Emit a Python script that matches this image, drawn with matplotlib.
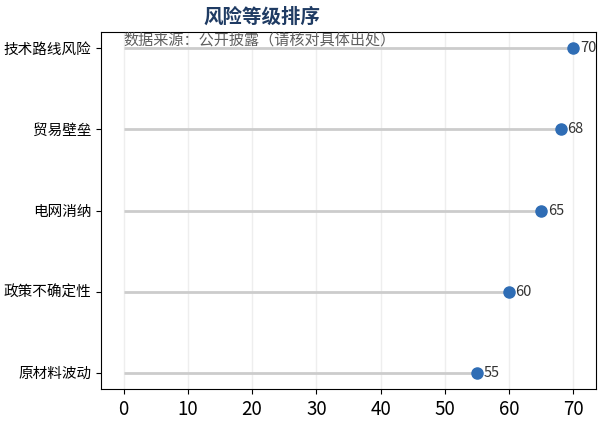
import numpy as np
import matplotlib
matplotlib.use('Agg')
import matplotlib.pyplot as plt

plt.rcParams['font.family'] = ['Noto Sans CJK SC', 'DejaVu Sans']

# Данные
categories = ['原材料波动', '政策不确定性', '电网消纳', '贸易壁垒', '技术路线风险']
values = [55, 60, 65, 68, 70]
x_ticks = [0, 10, 20, 30, 40, 50, 60, 70]

fig = plt.figure(figsize=(6.05, 4.24), dpi=100)
ax = fig.add_axes([0.167, 0.0825, 0.818, 0.842])

y = np.arange(len(categories))
ax.hlines(y, 0, values, color='#cccccc', lw=2, zorder=2)
ax.plot(values, y, 'o', color='#2f6db5', ms=8, zorder=3)
for yi, v in zip(y, values):
    ax.text(v + 1.0, yi, str(v), va='center', ha='left', fontsize=10.5, color='#333333')

ax.set_yticks(y)
ax.set_yticklabels(categories, fontsize=10.5)
ax.set_xticks(x_ticks)
ax.tick_params(axis='x', labelsize=13.5)
ax.set_xlim(-3.5, 73.5)
ax.set_ylim(-0.2, 4.2)
ax.grid(axis='x', color='#eeeeee', lw=1, zorder=0)
ax.set_axisbelow(True)

# подпись источника
ax.text(0, 0.978, '数据来源：公开披露（请核对具体出处）', transform=ax.get_xaxis_transform(),
        fontsize=10.9, color='#5f5f5f', va='center', ha='left')
fig.text(0.433, 0.96, '风险等级排序', fontsize=14, fontweight='bold', color='#1f3b63',
         ha='center', va='center')

plt.savefig('out.png', dpi=100)
